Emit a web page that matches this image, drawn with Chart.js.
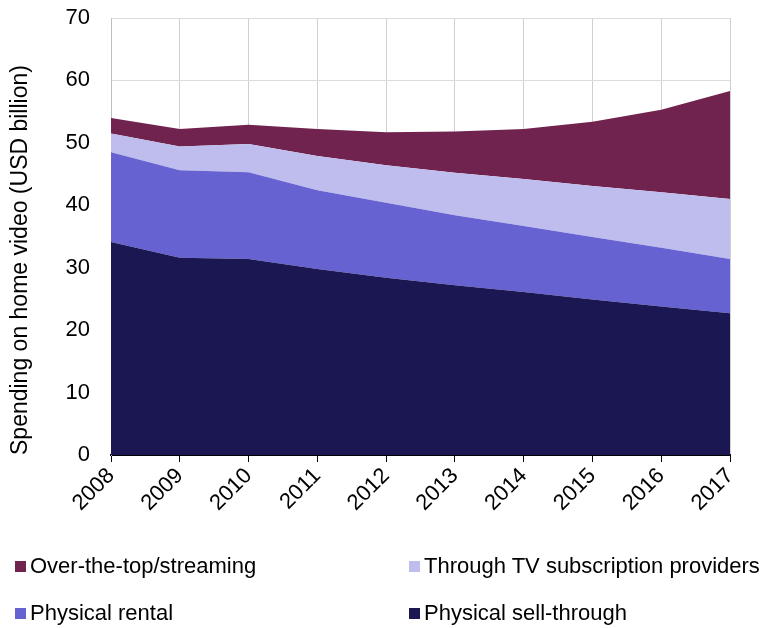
<!DOCTYPE html>
<html>
<head>
<meta charset="utf-8">
<style>
  body { margin: 0; background: #fff; }
  #wrap { position: relative; width: 761px; height: 628px; }
  #legend { position: absolute; left: 0; top: 0; width: 761px; height: 628px; pointer-events: none;
            font-family: "Liberation Sans", Arial, sans-serif; font-size: 22px; color: #000; }
  .item { position: absolute; display: flex; align-items: center; white-space: nowrap; line-height: 24px; }
  .box { width: 11px; height: 11px; margin-right: 4px; }
</style>
</head>
<body>
<div id="wrap">
  <canvas id="videoChart" width="761" height="628"></canvas>
  <div id="legend"></div>
</div>

<script src="https://cdn.jsdelivr.net/npm/chart.js"></script>
<script>
const years = ['2008', '2009', '2010', '2011', '2012', '2013', '2014', '2015', '2016', '2017'];

// USD billion per year, stacked bottom to top
const sellThrough  = [34.1, 31.6, 31.4, 29.8, 28.4, 27.2, 26.1, 24.9, 23.8, 22.7];
const rental       = [14.4, 14.0, 13.9, 12.6, 12.0, 11.2, 10.6, 10.0, 9.4, 8.7];
const tvProviders  = [3.0, 3.8, 4.5, 5.5, 6.0, 6.8, 7.5, 8.2, 8.9, 9.6];
const ottStreaming = [2.5, 2.8, 3.1, 4.3, 5.3, 6.6, 8.0, 10.3, 13.2, 17.3];

const yTicks = [0, 10, 20, 30, 40, 50, 60, 70];

const colors = {
  sell: '#1a1753',
  rental: '#6662d2',
  tv: '#bfbded',
  ott: '#70234e'
};

const font = "'Liberation Sans', Arial, sans-serif";

function area(label, data, color, fill) {
  return {
    label: label,
    data: data,
    backgroundColor: color,
    borderColor: color,
    borderWidth: 0,
    pointRadius: 0,
    fill: fill,
    tension: 0
  };
}

// keep the plot box fixed: no automatic label padding around the axes
function noPadding(axis) {
  axis.paddingTop = 0;
  axis.paddingBottom = 0;
  axis.paddingLeft = 0;
  axis.paddingRight = 0;
}

const ctx = document.getElementById('videoChart').getContext('2d');

const chart = new Chart(ctx, {
  type: 'line',
  data: {
    labels: years,
    datasets: [
      area('Physical sell-through', sellThrough, colors.sell, 'origin'),
      area('Physical rental', rental, colors.rental, '-1'),
      area('Through TV subscription providers', tvProviders, colors.tv, '-1'),
      area('Over-the-top/streaming', ottStreaming, colors.ott, '-1')
    ]
  },
  options: {
    responsive: false,
    animation: false,
    layout: { padding: { left: 0, right: 31, top: 18, bottom: 0 } },
    plugins: {
      legend: { display: false },
      tooltip: { enabled: false }
    },
    scales: {
      x: {
        offset: false,
        grid: {
          color: '#d0d0d0',
          tickColor: '#000',
          tickLength: 7,
          offset: false
        },
        border: { color: '#000', width: 2 },
        ticks: {
          color: '#000',
          font: { family: font, size: 22 },
          minRotation: 45,
          maxRotation: 45,
          padding: 1
        },
        afterFit: (axis) => { axis.height = 628 - 455; noPadding(axis); }
      },
      y: {
        stacked: true,
        min: 0,
        max: 70,
        afterBuildTicks: (axis) => { axis.ticks = yTicks.map(v => ({ value: v })); },
        grid: {
          color: '#dcdcdc',
          drawTicks: false
        },
        border: { color: '#bdbdbd', width: 1 },
        ticks: {
          color: '#000',
          font: { family: font, size: 22 },
          padding: 21
        },
        title: {
          display: true,
          text: 'Spending on home video (USD billion)',
          align: 'start',
          color: '#000',
          font: { family: font, size: 23 },
          padding: { top: 7, bottom: 0 }
        },
        afterFit: (axis) => { axis.width = 111; noPadding(axis); }
      }
    }
  }
});

// Two-column legend under the chart
const legendItems = [
  { label: 'Over-the-top/streaming', color: colors.ott, x: 15, y: 566 },
  { label: 'Through TV subscription providers', color: colors.tv, x: 409, y: 566 },
  { label: 'Physical rental', color: colors.rental, x: 15, y: 613 },
  { label: 'Physical sell-through', color: colors.sell, x: 409, y: 613 }
];
const legend = document.getElementById('legend');
legendItems.forEach(item => {
  const el = document.createElement('div');
  el.className = 'item';
  el.style.left = item.x + 'px';
  el.style.top = (item.y - 12) + 'px';
  el.innerHTML = '<span class="box" style="background:' + item.color + '"></span><span>' + item.label + '</span>';
  legend.appendChild(el);
});
</script>
</body>
</html>
